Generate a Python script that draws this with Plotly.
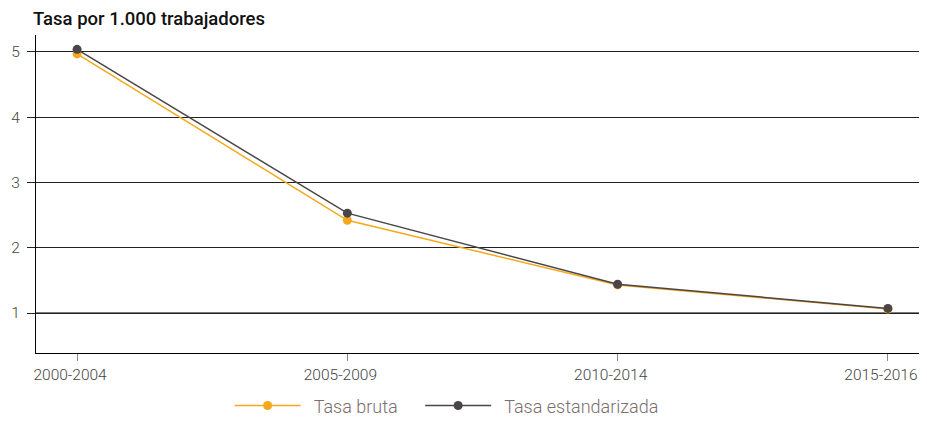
import plotly.graph_objects as go

periodos = ["2000-2004", "2005-2009", "2010-2014", "2015-2016"]
tasa_bruta = [4.97, 2.42, 1.43, 1.06]
tasa_estandarizada = [5.04, 2.53, 1.44, 1.07]

naranja = "#F5A81C"
gris_oscuro = "#4B4547"
fuente = "Roboto"

# la pagina deja 8px de margen al body: se reduce el tamano para no desbordar
ancho, alto = 911, 409

fig = go.Figure()
fig.add_trace(go.Scatter(x=periodos, y=tasa_bruta,
                         name="\u00a0\u2009Tasa bruta\u00a0\u00a0\u00a0\u00a0",
                         mode="lines+markers",
                         line=dict(color=naranja, width=1.5),
                         marker=dict(color=naranja, size=9)))
fig.add_trace(go.Scatter(x=periodos, y=tasa_estandarizada,
                         name="\u00a0\u2009Tasa estandarizada",
                         mode="lines+markers",
                         line=dict(color=gris_oscuro, width=1.5),
                         marker=dict(color=gris_oscuro, size=9)))

# linea base en 1 (gris, mas gruesa), encima de la rejilla
fig.add_shape(type="line", xref="paper", x0=0, x1=1, yref="y", y0=1, y1=1,
              line=dict(color="#7a7a7a", width=2), layer="between")

fig.update_layout(
    width=ancho, height=alto,
    margin=dict(l=28, r=0, t=27, b=64, autoexpand=False),
    paper_bgcolor="white", plot_bgcolor="white",
    font=dict(family=fuente, size=14, color="#444"),
    title=dict(text="Tasa por 1.000 trabajadores", x=25 / ancho, xanchor="left",
               y=1 - 10.5 / alto, yanchor="middle",
               font=dict(family=fuente, size=18.5, color="#111", weight=500)),
    showlegend=True,
    legend=dict(orientation="h", x=0.465, xanchor="center", y=-0.108, yanchor="top",
                font=dict(size=18, color="#7a6e6e", weight=300), itemwidth=66,
                traceorder="normal"),
    xaxis=dict(range=[-0.152, 3.115], showgrid=False, showline=True,
               linecolor="black", linewidth=1.3, ticks="outside", ticklen=7,
               tickcolor="#888", ticklabelshift=-7,
               tickfont=dict(size=15.5, color="#444", weight=300),
               zeroline=False, automargin=False),
    yaxis=dict(range=[0.387, 5.26], tickvals=[1, 2, 3, 4, 5], showgrid=True,
               gridcolor="#222", gridwidth=1, showline=True, linecolor="black",
               linewidth=1.3, ticks="outside", ticklen=8, tickcolor="#222",
               ticklabelstandoff=4,
               tickfont=dict(size=15.5, color="#444", weight=300), zeroline=False,
               automargin=False),
)

fig.write_html("out.html")
